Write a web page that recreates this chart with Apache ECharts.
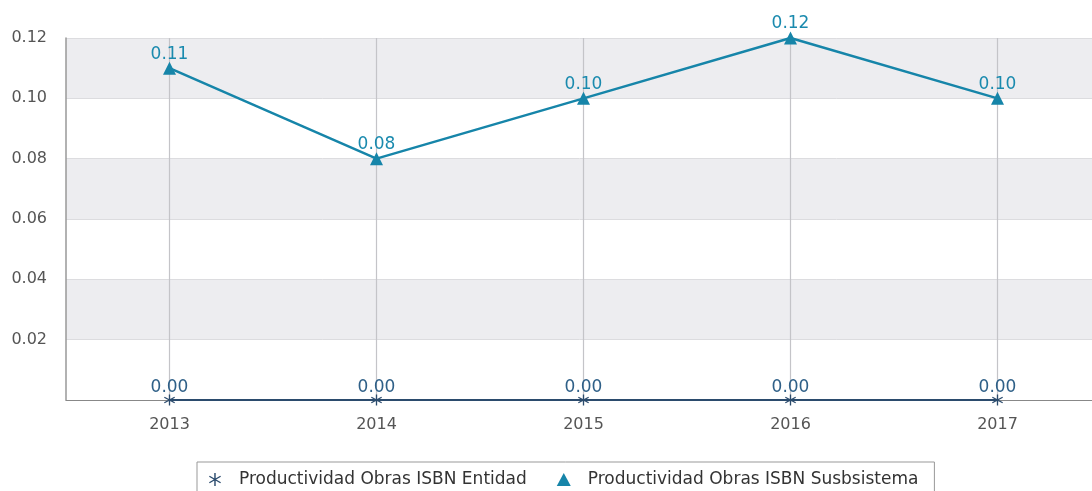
<!DOCTYPE html>
<html>
<head>
<meta charset="utf-8">
<script src="https://cdn.jsdelivr.net/npm/echarts@6/dist/echarts.min.js"></script>
<style>html,body{margin:0;padding:0;background:#fff}#c{width:1092px;height:491px}</style>
</head>
<body>
<div id="c"></div>
<script>
var categories = ['2013', '2014', '2015', '2016', '2017'];
var entidadValues = [0, 0, 0, 0, 0];
var subsistemaValues = [0.11, 0.08, 0.10, 0.12, 0.10];
var entidadName = 'Productividad Obras ISBN Entidad';
var subsistemaName = 'Productividad Obras ISBN Susbsistema';

var asterisk = 'path://M-0.55,-5L0.55,-5L0.55,5L-0.55,5Z' +
  'M-4.60,-2.02L-4.05,-2.98L4.60,2.02L4.05,2.98Z' +
  'M-4.05,2.98L-4.60,2.02L4.05,-2.98L4.60,-2.02Z';

var FONT = 'DejaVu Sans';
var chart = echarts.init(document.getElementById('c'), null, {renderer: 'canvas'});
chart.setOption({
  animation: false,
  textStyle: {fontFamily: FONT},
  grid: {left: 66, right: -9, top: 38, bottom: 91, containLabel: false, outerBoundsMode: 'none'},
  legend: {
    top: 462, left: 197,
    borderColor: '#999', borderWidth: 1,
    padding: [9, 16, 8, 12],
    itemGap: 30, itemWidth: 14, itemHeight: 13,
    textStyle: {fontFamily: FONT, fontSize: 17, color: '#333', padding: [0, 0, 0, 12]},
    data: [
      {name: entidadName, icon: asterisk},
      {name: subsistemaName, icon: 'triangle'}
    ]
  },
  xAxis: {
    type: 'category',
    data: categories,
    boundaryGap: true,
    axisLine: {lineStyle: {color: '#888', width: 1}},
    axisTick: {show: false},
    axisLabel: {fontFamily: FONT, fontSize: 16, color: '#555', margin: 17},
    splitLine: {show: false}
  },
  yAxis: {
    type: 'value',
    min: 0, max: 0.12, interval: 0.02,
    axisLine: {show: true, lineStyle: {color: '#999', width: 1.5}},
    axisTick: {show: false},
    axisLabel: {
      fontFamily: FONT, fontSize: 16, color: '#555', margin: 19,
      formatter: function (v) { return v === 0 ? '' : v.toFixed(2); }
    },
    splitLine: {show: true, lineStyle: {color: '#dcdcdf', width: 1}},
    splitArea: {show: true, areaStyle: {color: ['#ffffff', '#ededf0']}}
  },
  series: [
    {
      name: subsistemaName,
      type: 'line',
      data: subsistemaValues,
      symbol: 'triangle',
      symbolSize: 13,
      z: 3,
      lineStyle: {color: '#1685a9', width: 2.5},
      itemStyle: {color: '#1685a9'},
      label: {
        show: true, position: 'top', distance: -1,
        fontFamily: FONT, fontSize: 17, color: '#1a8aae',
        formatter: function (p) { return p.value.toFixed(2); }
      },
      markLine: {
        silent: true, symbol: 'none', z: 1,
        label: {show: false},
        lineStyle: {color: '#c4c4c8', width: 1.2, type: 'solid'},
        data: categories.map(function (c) { return {xAxis: c}; })
      }
    },
    {
      name: entidadName,
      type: 'line',
      data: entidadValues,
      symbol: asterisk,
      symbolSize: 11,
      z: 4,
      lineStyle: {color: '#2b4b6d', width: 2},
      itemStyle: {color: '#2b4b6d'},
      label: {
        show: true, position: 'top', distance: -2,
        fontFamily: FONT, fontSize: 17, color: '#2f6088',
        formatter: function (p) { return p.value.toFixed(2); }
      }
    }
  ]
});
</script>
</body>
</html>
